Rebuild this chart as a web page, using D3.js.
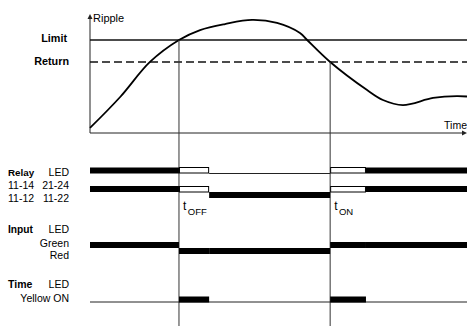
<!DOCTYPE html>
<html><head><meta charset="utf-8">
<script src="https://cdn.jsdelivr.net/npm/d3@7"></script>
<style>
html,body{margin:0;padding:0;background:#fff;}
svg{display:block;font-family:"Liberation Sans",Arial,sans-serif;}
</style></head>
<body><svg id="c" width="467" height="327"></svg>
<script>
// ---- data ----
const rippleTime  = [0, 8, 15.9, 23.6, 29.2, 35.8, 43, 49.6, 55.7, 57.6, 63.7, 73.5, 77.7, 83, 91, 97.3, 100];
const rippleValue = [4.2, 30, 59.2, 77.5, 85.8, 90.8, 94.2, 91.7, 83.3, 77.5, 59.2, 35.8, 27.5, 23.3, 29.2, 30.8, 30.4];
const limitLevel = 77.5;
const returnLevel = 59.2;
const phaseBounds = [0, 23.6, 31.6, 63.7, 73.2, 100]; // start, tOFF, tOFF end, tON, tON end, end
const relayLedStates   = ["on", "delay", "off", "delay", "on"];
const relayContactStates = ["high", "delay", "low", "delay", "high"];
const inputStates      = ["high", "low", "low", "high", "high"];
const timerStates      = ["off", "on", "off", "on", "off"];
const markerTimes = [23.6, 63.7];
const markerLabels = [["t", "OFF"], ["t", "ON"]];

// ---- drawing ----
const svg = d3.select("#c");
const x = d3.scaleLinear().domain([0, 100]).range([90, 467]);
const y = d3.scaleLinear().domain([0, 100]).range([133, 13]);

// axes
svg.append("line").attr("x1", 90).attr("x2", 90).attr("y1", 18).attr("y2", 133)
  .attr("stroke", "#222").attr("stroke-width", 1);
svg.append("path").attr("d", "M90,14 L87.5,19 L92.5,19 Z").attr("fill", "#222");
svg.append("line").attr("x1", 90).attr("x2", 463).attr("y1", 133).attr("y2", 133)
  .attr("stroke", "#222").attr("stroke-width", 1);
svg.append("path").attr("d", "M467,133 L462,130.5 L462,135.5 Z").attr("fill", "#222");

// limit & return
svg.append("line").attr("x1", x(0)).attr("x2", x(100)).attr("y1", y(limitLevel)).attr("y2", y(limitLevel))
  .attr("stroke", "#111").attr("stroke-width", 1.3);
svg.append("line").attr("x1", x(0)).attr("x2", x(100)).attr("y1", y(returnLevel)).attr("y2", y(returnLevel))
  .attr("stroke", "#111").attr("stroke-width", 1.5).attr("stroke-dasharray", "8,4");

// ripple curve
const pts = rippleTime.map((t, i) => [t, rippleValue[i]]);
svg.append("path").datum(pts)
  .attr("d", d3.line().x(d => x(d[0])).y(d => y(d[1])).curve(d3.curveCatmullRom.alpha(0.5)))
  .attr("fill", "none").attr("stroke", "#000").attr("stroke-width", 1.8);

// vertical marker lines
const markerTop = [y(limitLevel), y(returnLevel)];
markerTimes.forEach((t, i) => {
  svg.append("line").attr("x1", x(t)).attr("x2", x(t)).attr("y1", markerTop[i]).attr("y2", 326)
    .attr("stroke", "#333").attr("stroke-width", 1);
});

const segs = states => states.map((s, i) => ({s, a: phaseBounds[i], b: phaseBounds[i + 1]}));

// relay LED row
segs(relayLedStates).forEach(d => {
  const x0 = x(d.a), x1 = x(d.b);
  if (d.s === "on") svg.append("rect").attr("x", x0).attr("y", 167.5).attr("width", x1 - x0).attr("height", 6).attr("fill", "#000");
  else if (d.s === "delay") svg.append("rect").attr("x", x0 + 0.5).attr("y", 167.5).attr("width", x1 - x0 - 1).attr("height", 5.5)
    .attr("fill", "#fff").attr("stroke", "#000").attr("stroke-width", 1);
  else svg.append("line").attr("x1", x0).attr("x2", x1).attr("y1", 173.5).attr("y2", 173.5).attr("stroke", "#222").attr("stroke-width", 1);
});

// relay contacts row
segs(relayContactStates).forEach(d => {
  const x0 = x(d.a), x1 = x(d.b);
  if (d.s === "high") svg.append("rect").attr("x", x0).attr("y", 186).attr("width", x1 - x0).attr("height", 6).attr("fill", "#000");
  else if (d.s === "low") svg.append("rect").attr("x", x0).attr("y", 192).attr("width", x1 - x0).attr("height", 6).attr("fill", "#000");
  else svg.append("rect").attr("x", x0 + 0.5).attr("y", 186.5).attr("width", x1 - x0 - 1).attr("height", 5.5)
    .attr("fill", "#fff").attr("stroke", "#000").attr("stroke-width", 1);
});

// input row
segs(inputStates).forEach(d => {
  const x0 = x(d.a), x1 = x(d.b);
  svg.append("rect").attr("x", x0).attr("y", d.s === "high" ? 242 : 248).attr("width", x1 - x0).attr("height", 6).attr("fill", "#000");
});

// timer row
svg.append("line").attr("x1", x(0)).attr("x2", x(100)).attr("y1", 302).attr("y2", 302).attr("stroke", "#222").attr("stroke-width", 1);
segs(timerStates).filter(d => d.s === "on").forEach(d => {
  svg.append("rect").attr("x", x(d.a)).attr("y", 296.5).attr("width", x(d.b) - x(d.a)).attr("height", 6).attr("fill", "#000");
});

// marker labels
markerTimes.forEach((t, i) => {
  const tx = svg.append("text").attr("x", x(t) + 4).attr("y", 210).attr("font-size", 12).attr("fill", "#000");
  tx.append("tspan").text(markerLabels[i][0]);
  tx.append("tspan").attr("dx", 1.5).attr("dy", 5).attr("font-size", 9.5).text(markerLabels[i][1]);
});

// texts
const T = (tx, xx, yy, opt = {}) => svg.append("text").attr("x", xx).attr("y", yy)
  .attr("font-size", opt.size || 10.5).attr("font-weight", opt.bold ? "bold" : "normal")
  .attr("text-anchor", opt.anchor || "start").attr("fill", "#000").text(tx);

T("Ripple", 93, 22, {size: 11});
T("Time", 467, 129, {anchor: "end"});
T("Limit", 67, 42, {bold: true, anchor: "end", size: 10.8});
T("Return", 69, 65, {bold: true, anchor: "end", size: 10.8});
T("Relay", 8, 176, {bold: true, size: 9.8});
T("LED", 69, 176, {anchor: "end"});
T("11-14", 8, 189);
T("21-24", 69, 189, {anchor: "end"});
T("11-12", 8, 201.5);
T("11-22", 69, 201.5, {anchor: "end"});
T("Input", 8, 233, {bold: true, size: 10.2});
T("LED", 69, 233, {anchor: "end"});
T("Green", 69, 247, {anchor: "end"});
T("Red", 69, 259, {anchor: "end"});
T("Time", 8, 288, {bold: true, size: 10.5});
T("LED", 69, 288, {anchor: "end"});
T("Yellow ON", 69, 302, {anchor: "end"});
</script></body></html>
